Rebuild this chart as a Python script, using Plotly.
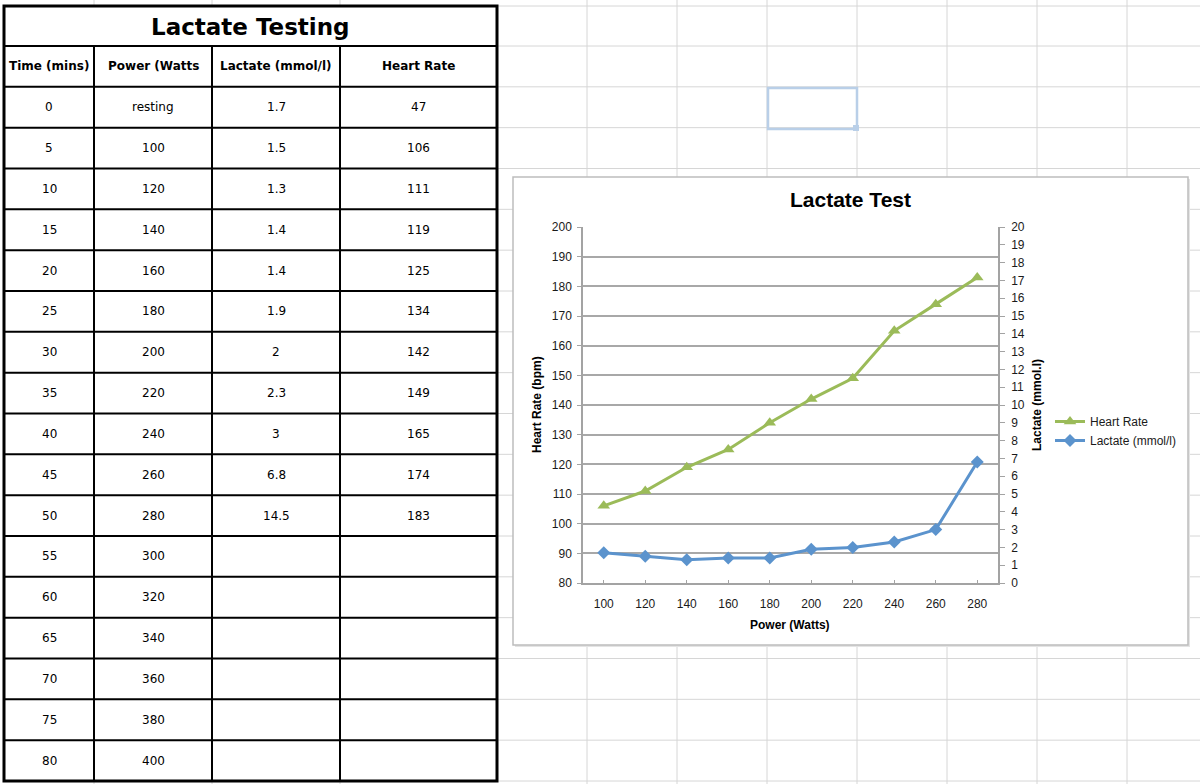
import plotly.graph_objects as go

# table data (as typed in the sheet)
time_mins = [0, 5, 10, 15, 20, 25, 30, 35, 40, 45, 50, 55, 60, 65, 70, 75, 80]
power_watts = ["resting", 100, 120, 140, 160, 180, 200, 220, 240, 260, 280,
               300, 320, 340, 360, 380, 400]
lactate_mmol = [1.7, 1.5, 1.3, 1.4, 1.4, 1.9, 2, 2.3, 3, 6.8, 14.5]
heart_rate = [47, 106, 111, 119, 125, 134, 142, 149, 165, 174, 183]
headers = ["Time (mins)", "Power (Watts", "Lactate (mmol/l)", "Heart Rate"]

# chart series - the lactate range in the sheet is one row off, kept as drawn
chart_power = power_watts[1:11]
chart_hr = heart_rate[1:11]
chart_lactate = lactate_mmol[0:10]

W, H = 1200, 784


def px(x):
    return x / W


def py(y):
    return 1 - y / H


def hline(y, x0, x1, color, width):
    return dict(type="line", xref="paper", yref="paper", x0=px(x0), x1=px(x1),
                y0=py(y), y1=py(y), line=dict(color=color, width=width), layer="below")


def vline(x, y0, y1, color, width):
    return dict(type="line", xref="paper", yref="paper", x0=px(x), x1=px(x),
                y0=py(y0), y1=py(y1), line=dict(color=color, width=width), layer="below")


def label(text, x, y, font, angle=0):
    return dict(text=text, xref="paper", yref="paper", x=px(x), y=py(y),
                xanchor="center", yanchor="middle", textangle=angle,
                showarrow=False, font=font)


shapes = []
annotations = []

# spreadsheet grid behind everything
grid_col = "#d6d6d6"
tbl_left, tbl_right, tbl_top, title_bot, tbl_bot = 4, 497, 6, 46, 781
col_edges = [4, 94, 212, 340, 497]
n_rows = len(time_mins) + 1
row_h = (tbl_bot - title_bot) / n_rows
row_edges = [title_bot + i * row_h for i in range(n_rows + 1)]

for y in [tbl_top] + row_edges:
    shapes.append(hline(y, tbl_right, W, grid_col, 1))
for x in [94, 212, 340, 587, 677, 767, 857, 947, 1037, 1127]:
    shapes.append(vline(x, 0, H, grid_col, 1))

# selected cell
sel = "#b9cfe8"
shapes.append(dict(type="rect", xref="paper", yref="paper", x0=px(768), x1=px(857),
                   y0=py(88), y1=py(129), line=dict(color=sel, width=2.5), layer="below"))
shapes.append(dict(type="rect", xref="paper", yref="paper", x0=px(853), x1=px(859),
                   y0=py(125), y1=py(131), line=dict(width=0), fillcolor=sel, layer="below"))

# chart frame
shapes.append(dict(type="rect", xref="paper", yref="paper", x0=px(515), x1=px(1190),
                   y0=py(179), y1=py(647), line=dict(width=0), fillcolor="#e4e4e4", layer="below"))
shapes.append(dict(type="rect", xref="paper", yref="paper", x0=px(513), x1=px(1188),
                   y0=py(177), y1=py(645), line=dict(color="#bdbdbd", width=1.5),
                   fillcolor="white", layer="below"))

# table lines
shapes.append(dict(type="rect", xref="paper", yref="paper", x0=px(tbl_left), x1=px(tbl_right),
                   y0=py(tbl_top), y1=py(tbl_bot), line=dict(color="black", width=3),
                   fillcolor="white", layer="below"))
for y in row_edges[:-1]:
    shapes.append(hline(y, tbl_left, tbl_right, "black", 2))
for x in col_edges[1:-1]:
    shapes.append(vline(x, title_bot, tbl_bot, "black", 2))

tfont = "DejaVu Sans, Verdana, sans-serif"
annotations.append(label("<b>Lactate Testing</b>", (tbl_left + tbl_right) / 2,
                         (tbl_top + title_bot) / 2 + 1,
                         dict(family=tfont, size=23, color="black")))


def cell(text, col, row, bold=False):
    t = "" if text is None else str(text)
    if bold:
        t = "<b>" + t + "</b>"
    annotations.append(label(t, (col_edges[col] + col_edges[col + 1]) / 2,
                             (row_edges[row] + row_edges[row + 1]) / 2,
                             dict(family=tfont, size=12, color="black")))


for c, h in enumerate(headers):
    cell(h, c, 0, bold=True)
for r in range(len(time_mins)):
    cell(time_mins[r], 0, r + 1)
    cell(power_watts[r], 1, r + 1)
    if r < len(lactate_mmol):
        cell(lactate_mmol[r], 2, r + 1)
    if r < len(heart_rate):
        cell(heart_rate[r], 3, r + 1)

# chart
cfont = "Liberation Sans, Arial, sans-serif"
green = "#9bbb59"
blue = "#5b93cd"
axis_col = "#a3a3a3"
plot_l, plot_r, plot_t, plot_b = 583, 998, 227, 583

fig = go.Figure()
fig.add_trace(go.Scatter(x=chart_power, y=chart_hr, name="Heart Rate", mode="lines+markers",
                         line=dict(color=green, width=3),
                         marker=dict(symbol="triangle-up", size=11, color=green)))
fig.add_trace(go.Scatter(x=chart_power, y=chart_lactate, name="Lactate (mmol/l)",
                         mode="lines+markers", yaxis="y2",
                         line=dict(color=blue, width=3),
                         marker=dict(symbol="diamond", size=10, color=blue)))

bold12 = dict(family=cfont, size=12, color="black")
annotations += [
    label("<b>Lactate Test</b>", 850, 200, dict(family=cfont, size=21, color="black")),
    label("<b>Power (Watts)</b>", 790, 625, bold12),
    label("<b>Heart Rate (bpm)</b>", 537, 405, bold12, -90),
    label("<b>Lactate (mmol.l)</b>", 1037, 405, bold12, -90),
]

tickfont = dict(family=cfont, size=12, color="#1a1a1a")
fig.update_layout(
    width=W, height=H,
    margin=dict(l=0, r=0, t=0, b=0, autoexpand=False),
    paper_bgcolor="white",
    plot_bgcolor="rgba(0,0,0,0)",
    shapes=shapes,
    annotations=annotations,
    showlegend=True,
    legend=dict(x=px(1050), xanchor="left", y=py(431), yanchor="middle",
                font=dict(family=cfont, size=12, color="#1a1a1a"),
                bgcolor="rgba(0,0,0,0)", itemwidth=30),
    xaxis=dict(domain=[px(plot_l), px(plot_r)], range=[90, 290], tickvals=chart_power,
               ticks="inside", ticklen=3, tickcolor=axis_col, showline=True,
               linecolor=axis_col, linewidth=1.5, showgrid=False, zeroline=False,
               tickfont=tickfont, ticklabelstandoff=9, automargin=False),
    yaxis=dict(domain=[py(plot_b), py(plot_t)], range=[80, 200], dtick=10,
               ticks="outside", ticklen=4, tickcolor=axis_col, showline=True,
               linecolor=axis_col, linewidth=1.5, showgrid=True, gridcolor="#a8a8a8",
               gridwidth=1.5, zeroline=False, tickfont=tickfont, ticklabelstandoff=3,
               automargin=False),
    yaxis2=dict(overlaying="y", side="right", range=[0, 20], dtick=1,
                ticks="outside", ticklen=5, tickcolor=axis_col, showline=True,
                linecolor=axis_col, linewidth=1.5, showgrid=False, zeroline=False,
                tickfont=tickfont, anchor="x", ticklabelstandoff=4, automargin=False),
)

page_css = "document.body.style.margin='0';document.body.style.overflow='hidden';"
fig.write_html("out.html", config={"displayModeBar": False}, post_script=page_css)
